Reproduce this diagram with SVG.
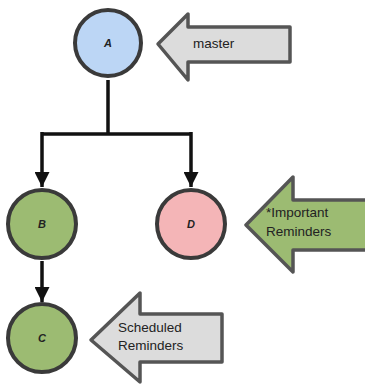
<svg xmlns="http://www.w3.org/2000/svg" width="365" height="385" viewBox="0 0 365 385">
<defs>
<style>
.node{stroke:#3a3a3a;stroke-width:4}
.lbl{font-family:"Liberation Sans",Arial,sans-serif;font-weight:bold;font-style:italic;font-size:11px;fill:#222;text-anchor:middle}
.tag{stroke:#555;stroke-width:3.5;stroke-linejoin:round}
.tagtxt{font-family:"Liberation Sans",Arial,sans-serif;font-size:13.5px;fill:#222}
.conn{fill:none;stroke:#111;stroke-width:3.5}
</style>
<marker id="arr" viewBox="0 0 10 10" refX="10" refY="5" markerWidth="15" markerHeight="15" markerUnits="userSpaceOnUse" orient="auto">
<path d="M0,0 L10,5 L0,10 z" fill="#111"/>
</marker>
</defs>
<g id="connectors">
<path class="conn" d="M108,80 V134 M42,134 H191"/>
<path class="conn" d="M42,132 V187" marker-end="url(#arr)"/>
<path class="conn" d="M191,132 V187" marker-end="url(#arr)"/>
<path class="conn" d="M42,261 V302" marker-end="url(#arr)"/>
</g>
<g id="node-A">
<circle class="node" cx="108" cy="43" r="33" fill="#bcd6f5"/>
<text class="lbl" x="108" y="47">A</text>
</g>
<g id="node-B">
<circle class="node" cx="42" cy="224" r="34" fill="#9cbb72"/>
<text class="lbl" x="42" y="228">B</text>
</g>
<g id="node-D">
<circle class="node" cx="191" cy="224" r="34" fill="#f4b5b7"/>
<text class="lbl" x="191" y="228">D</text>
</g>
<g id="node-C">
<circle class="node" cx="42" cy="338" r="34" fill="#9cbb72"/>
<text class="lbl" x="42" y="342">C</text>
</g>
<g id="tag-master">
<path class="tag" fill="#dcdcdc" d="M158,44 L188,14 L188,27 L290,27 L290,62 L188,62 L188,80 Z"/>
<text class="tagtxt" x="193" y="48">master</text>
</g>
<g id="tag-important">
<path class="tag" fill="#9cbb72" d="M246,225 L293,177 L293,200 L367,200 L367,250 L293,250 L293,272 Z"/>
<text class="tagtxt" x="266" y="217">*Important</text>
<text class="tagtxt" x="266" y="236">Reminders</text>
</g>
<g id="tag-scheduled">
<path class="tag" fill="#dcdcdc" d="M91,340 L140,293 L140,314 L222,314 L222,362 L140,362 L140,382 Z"/>
<text class="tagtxt" x="118" y="332">Scheduled</text>
<text class="tagtxt" x="118" y="350">Reminders</text>
</g>
</svg>
